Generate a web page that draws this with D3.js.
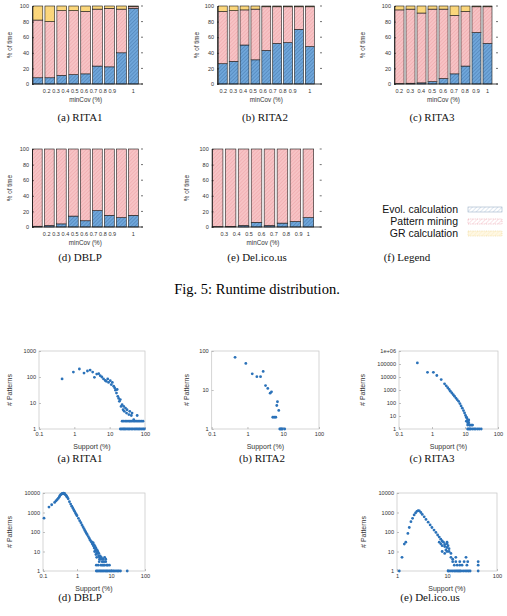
<!DOCTYPE html>
<html>
<head>
<meta charset="utf-8">
<script src="https://cdn.jsdelivr.net/npm/d3@7"></script>
<style>
body { margin: 0; background: #fff; }
svg { display: block; }
</style>
</head>
<body>
<script>
// ---- runtime distribution (% of time) ----
var minCov9 = ["0.2", "0.3", "0.4", "0.5", "0.6", "0.7", "0.8", "0.9", "1"];
var minCov8 = ["0.3", "0.4", "0.5", "0.6", "0.7", "0.8", "0.9", "1"];

var rita1Evol = [8, 8, 11, 12, 13, 23, 22, 40, 97];
var rita1Pattern = [74, 72, 83, 82, 80, 73, 75, 56, 2];
var rita1GR = [18, 20, 6, 6, 7, 4, 3, 4, 1];

var rita2Evol = [26, 29, 50, 31, 43, 52, 53, 70, 48];
var rita2Pattern = [67, 65, 45, 65, 56, 47, 46, 29, 51];
var rita2GR = [7, 6, 5, 4, 1, 1, 1, 1, 1];

var rita3Evol = [0.5, 1, 1.5, 3, 7, 13, 23, 66, 52];
var rita3Pattern = [94.5, 95, 89.5, 93, 89, 75, 70, 33, 47];
var rita3GR = [5, 4, 9, 4, 4, 12, 7, 1, 1];

var dblpEvol = [1, 2, 4, 14, 8, 21, 15, 12, 15];
var dblpPattern = [99, 98, 96, 86, 92, 79, 85, 88, 85];
var dblpGR = [0, 0, 0, 0, 0, 0, 0, 0, 0];

var delEvol = [0.5, 0.8, 2, 6, 2, 5, 7, 12];
var delPattern = [99.5, 99.2, 98, 94, 98, 95, 93, 88];
var delGR = [0, 0, 0, 0, 0, 0, 0, 0];

var legendNames = ["Evol. calculation", "Pattern mining", "GR calculation"];

// ---- # patterns per support value ----
var rita1Support = [0.45, 0.94, 1.39, 1.88, 2.35, 2.8, 3.3, 3.7, 4.3, 4.9, 5.4, 6.0, 6.7, 7.5, 8.0, 8.8, 9.3,
    10.4, 11.1, 11.9, 13, 13.9, 14.6, 15.6, 16.3, 17, 18, 18.8, 20, 21, 22.5, 24, 25, 26, 28, 30, 31, 35, 37,
    41, 43, 48, 60,
    22.5, 25, 28, 31, 35, 38, 42, 47, 52, 58, 64, 71, 79, 88,
    20, 22, 24, 26, 28, 31, 34, 37, 41, 45, 50, 55, 60, 66, 72, 80, 88, 96];
var rita1Patterns = [84, 155, 203, 142, 170, 185, 155, 97, 130, 134, 112, 100, 84, 74, 68, 84, 62,
    72, 51, 62, 44, 38, 31, 24, 33, 18, 15, 11.6, 13.5, 7.4, 8.6, 5.5, 7.4, 4.8, 6.4, 4.1, 5.5, 3.6, 4.8,
    3.3, 4.1, 2.3, 3.3,
    2, 2, 2, 2, 2, 2, 2, 2, 2, 2, 2, 2, 2, 2,
    1, 1, 1, 1, 1, 1, 1, 1, 1, 1, 1, 1, 1, 1, 1, 1, 1, 1];

var rita2Support = [0.45, 0.9, 1.36, 1.83, 2.32, 2.75, 3.2, 3.7, 4.3, 4.7, 5.1, 5.6, 6.2, 6.6, 6.9, 7.5,
    8, 8.5, 9, 9.5, 11];
var rita2Patterns = [69, 48, 26, 22, 22, 30, 13, 11, 8.3, 9, 2, 2, 2, 4, 5, 3,
    1, 1, 1, 1, 1];

var rita3Support = [0.36, 0.73, 1.1, 1.4, 1.9, 2.4, 2.7, 3.0, 3.3, 3.6, 4.0, 4.4, 4.8, 5.3, 5.8, 6.4, 7.0,
    7.6, 8.3, 9.0, 9.7, 10.4, 11, 11.4, 12, 12.5, 13, 13.5, 11, 12, 12, 13, 14, 15, 16, 17,
    12, 13, 14, 15, 17, 19, 21, 24, 27, 31];
var rita3Patterns = [120000, 23000, 23000, 13000, 6300, 3000, 2100, 1500, 1100, 800, 590, 440, 330, 240, 180, 134, 90,
    60, 40, 26, 17, 11, 8, 7, 5, 4, 3, 2, 4, 3, 2, 5, 2, 2, 2, 2,
    1, 1, 1, 1, 1, 1, 1, 1, 1, 1];

var dblpSupport = [0.107, 0.15, 0.18, 0.22, 0.24, 0.26, 0.28, 0.3, 0.31, 0.33, 0.34, 0.36, 0.37, 0.39, 0.4,
    0.42, 0.43, 0.46, 0.48, 0.5, 0.52,
    0.55, 0.6, 0.65, 0.7, 0.75, 0.8, 0.85, 0.9, 0.95, 1.0, 1.1, 1.2, 1.3, 1.4, 1.5, 1.6, 1.7, 1.8, 1.9, 2.0,
    2.15, 2.3, 2.45, 2.6, 2.8, 3.0, 3.2, 3.5, 3.8, 4.0, 4.3, 4.6, 5.0,
    2.8, 3.0, 3.2, 3.4, 3.6, 3.9, 3.3, 3.6, 3.8, 4.1, 4.4, 4.6, 4.8, 5.2, 5.5, 5.8, 6.2, 6.5, 7, 7.5, 8,
    3.7, 4.2, 4.5, 5, 5.5, 6, 6.5, 7, 9,
    3.7, 4, 4.4, 4.8, 5.2, 5.7, 6.2, 6.8, 7.4, 8, 8.8, 9.6, 10.5, 11.5, 12.5, 14, 15.5, 17, 19, 30];
var dblpPatterns = [510, 1900, 2500, 3300, 3900, 4500, 5300, 6200, 7000, 8100, 8600, 9000, 9500, 9300, 9800,
    9000, 9400, 8000, 7500, 6700, 6000,
    5000, 3600, 2700, 2100, 1700, 1400, 1150, 930, 800, 680, 500, 380, 300, 230, 185, 150, 120, 100, 85, 73,
    58, 47, 38, 32, 25, 20, 15, 12, 9, 8, 6, 5, 4,
    30, 28, 22, 18, 15, 12, 10, 7, 5, 10, 8, 4, 6, 5, 3, 4, 3, 5, 3, 2, 2,
    2, 2, 3, 2, 2, 2, 2, 4, 2,
    1, 1, 1, 1, 1, 1, 1, 1, 1, 1, 1, 1, 1, 1, 1, 1, 1, 1, 1, 1];

var delSupport = [1.11, 1.26, 1.4, 1.5, 1.65, 1.76, 1.9, 2.05, 2.2, 2.35, 2.5, 2.65, 2.8,
    3.0, 3.2, 3.5, 3.8, 4.2, 4.6, 5, 5.5, 6, 6.5, 7, 7.5, 8, 9, 10,
    7, 7.5, 8, 8.5, 9, 9.5, 10, 10.5, 11, 11, 12, 12, 13, 13, 14, 15, 15, 16, 18, 18, 20, 22, 24, 25, 26,
    10, 10, 9, 8,
    10.5, 11, 12, 13, 14, 15, 16, 17, 18, 19, 21, 23, 25, 27, 29, 42, 42, 42];
var delPatterns = [1, 5, 24, 30, 85, 170, 340, 500, 750, 950, 1150, 1250, 1200,
    1000, 800, 600, 440, 320, 230, 170, 125, 95, 70, 55, 43, 35, 23, 16,
    30, 25, 20, 30, 18, 12, 25, 20, 10, 14, 8, 5, 4, 3, 2, 3, 5, 2, 3, 2, 2, 3, 5, 2, 3,
    30, 10, 8, 10,
    1, 1, 1, 1, 1, 1, 1, 1, 1, 1, 1, 1, 1, 1, 1, 1, 2, 3];

// page setup
var canvasX = 507;
var canvasY = 616;
var sansFont = "'Liberation Sans', Arial, Helvetica, sans-serif";
var serifFont = "'Liberation Serif', 'Times New Roman', serif";
var dotColor = "#2b72b9";

var svg = d3.select("body").append("svg")
    .attr("width", canvasX)
    .attr("height", canvasY);

makePatterns();

var fills = { evol: "url(#hatchBlue)", pattern: "url(#hatchPink)", gr: "url(#fillYellow)" };

// bar charts
drawBars({ labels: minCov9, evol: rita1Evol, pattern: rita1Pattern, gr: rita1GR,
    left: 32, right: 143, top: 6, bottom: 84, barL: 33, barR: 138.3,
    labStart: 46.7, labEnd: 112.3, yTitleX: 10, caption: "(a) RITA1", capX: 80, capY: 121 });
drawBars({ labels: minCov9, evol: rita2Evol, pattern: rita2Pattern, gr: rita2GR,
    left: 217, right: 322, top: 6, bottom: 84, barL: 218.3, barR: 314.3,
    labStart: 223.3, labEnd: 292.7, yTitleX: 197, caption: "(b) RITA2", capX: 265, capY: 121 });
drawBars({ labels: minCov9, evol: rita3Evol, pattern: rita3Pattern, gr: rita3GR,
    left: 394, right: 498, top: 6, bottom: 84, barL: 395, barR: 492,
    labStart: 399.3, labEnd: 476, yTitleX: 363, caption: "(c) RITA3", capX: 432, capY: 121 });
drawBars({ labels: minCov9, evol: dblpEvol, pattern: dblpPattern, gr: dblpGR,
    left: 32, right: 143, top: 149, bottom: 227, barL: 32.3, barR: 138.3,
    labStart: 46.7, labEnd: 112.3, yTitleX: 10, caption: "(d) DBLP", capX: 80, capY: 261 });
drawBars({ labels: minCov8, evol: delEvol, pattern: delPattern, gr: delGR,
    left: 211.7, right: 321.7, top: 149, bottom: 227, barL: 212.3, barR: 313.7,
    labStart: 224.3, labEnd: 298.7, yTitleX: 187, caption: "(e) Del.ico.us", capX: 257, capY: 261 });

drawLegend();

// figure caption
svg.append("text")
    .attr("x", 257).attr("y", 294)
    .attr("text-anchor", "middle")
    .style("font-family", serifFont).style("font-size", "14.5px")
    .text("Fig. 5: Runtime distribution.");

// scatter plots
var decadesX = [0.1, 1, 10, 100];
drawScatter({ sup: rita1Support, pat: rita1Patterns, xDom: [0.1, 100], yDom: [1, 1000],
    xTicks: decadesX, yTicks: [1, 10, 100, 1000],
    left: 39, right: 145, top: 351, bottom: 429, yTitleX: 10, caption: "(a) RITA1", capX: 80, capY: 462 });
drawScatter({ sup: rita2Support, pat: rita2Patterns, xDom: [0.1, 100], yDom: [1, 100],
    xTicks: decadesX, yTicks: [1, 10, 100],
    left: 211.7, right: 319, top: 351, bottom: 429, yTitleX: 187, caption: "(b) RITA2", capX: 262, capY: 462 });
drawScatter({ sup: rita3Support, pat: rita3Patterns, xDom: [0.1, 100], yDom: [1, 1e6],
    xTicks: decadesX, yTicks: [1, 10, 100, 1000, 10000, 100000, 1e6],
    left: 399, right: 498, top: 351, bottom: 429, yTitleX: 363, caption: "(c) RITA3", capX: 432, capY: 462 });
drawScatter({ sup: dblpSupport, pat: dblpPatterns, xDom: [0.1, 100], yDom: [1, 10000],
    xTicks: decadesX, yTicks: [1, 10, 100, 1000, 10000],
    left: 43, right: 145, top: 493, bottom: 571, yTitleX: 10, caption: "(d) DBLP", capX: 80, capY: 601 });
drawScatter({ sup: delSupport, pat: delPatterns, xDom: [1, 100], yDom: [1, 10000],
    xTicks: [1, 10, 100], yTicks: [1, 10, 100, 1000, 10000],
    left: 397, right: 497, top: 493, bottom: 571, yTitleX: 364, caption: "(e) Del.ico.us", capX: 430, capY: 601 });


// hatch patterns for bars and legend
function makePatterns() {
    var defs = svg.append("defs");

    function hatch(id, bg, line, width, size) {
        var p = defs.append("pattern")
            .attr("id", id)
            .attr("patternUnits", "userSpaceOnUse")
            .attr("width", size).attr("height", size)
            .attr("patternTransform", "rotate(45)");
        p.append("rect").attr("width", size).attr("height", size).attr("fill", bg);
        p.append("line")
            .attr("x1", 0).attr("y1", 0).attr("x2", 0).attr("y2", size)
            .attr("stroke", line).attr("stroke-width", width);
    }

    hatch("hatchBlue", "#6fa6da", "#376699", 0.7, 2.6);
    hatch("hatchPink", "#f7c3c5", "#e58c92", 0.6, 2.6);
    hatch("fillYellow", "#fbd77d", "#f3c75c", 0.3, 2.6);
    hatch("legBlue", "#ffffff", "#9db8d2", 0.7, 3);
    hatch("legPink", "#ffffff", "#ef9aa6", 0.6, 3);
    hatch("legYellow", "#fff8e3", "#f6e1a6", 0.5, 3);
}

// stacked bar chart of the runtime shares
function drawBars(p) {
    var rows = p.labels.map(function(l, i) {
        return { label: l, evol: p.evol[i], pattern: p.pattern[i], gr: p.gr[i] };
    });
    var series = d3.stack().keys(["evol", "pattern", "gr"])(rows);

    var x = d3.scaleBand().domain(p.labels)
        .range([p.barL, p.barR])
        .paddingInner(0.18).paddingOuter(0);
    var y = d3.scaleLinear().domain([0, 100]).range([p.bottom, p.top]);
    var yTicks = [0, 20, 40, 60, 80, 100];

    var g = svg.append("g");

    g.selectAll("g.layer")
        .data(series)
        .enter().append("g")
        .attr("class", "layer")
        .attr("fill", function(d) { return fills[d.key]; })
        .selectAll("rect")
        .data(function(d) { return d; })
        .enter().append("rect")
        .attr("x", function(d) { return x(d.data.label); })
        .attr("width", x.bandwidth())
        .attr("y", function(d) { return y(d[1]); })
        .attr("height", function(d) { return Math.max(0, y(d[0]) - y(d[1])); })
        .attr("stroke", "#1a1a1a")
        .attr("stroke-width", 0.6);

    // left axis
    var yAxis = d3.axisLeft(y).tickValues(yTicks).tickSizeInner(-2).tickSizeOuter(0).tickPadding(3);
    var ya = g.append("g")
        .attr("transform", "translate(" + p.left + ",0)")
        .call(yAxis);
    ya.attr("font-family", sansFont).attr("font-size", 5.5);
    ya.select(".domain").attr("stroke", "#111").attr("stroke-width", 0.8);
    ya.selectAll(".tick line").attr("stroke", "#111").attr("stroke-width", 0.6);
    ya.selectAll(".tick text").attr("fill", "#333");

    // bottom line and mirror ticks on the right
    g.append("line")
        .attr("x1", p.left).attr("x2", p.right)
        .attr("y1", y(0)).attr("y2", y(0))
        .attr("stroke", "#111").attr("stroke-width", 0.8);
    g.selectAll("line.mirror")
        .data(yTicks)
        .enter().append("line")
        .attr("class", "mirror")
        .attr("x1", p.right - 2).attr("x2", p.right)
        .attr("y1", function(d) { return y(d); })
        .attr("y2", function(d) { return y(d); })
        .attr("stroke", "#111").attr("stroke-width", 0.6);

    // minCov labels (first ones are packed, last one sits under its bar)
    var n = p.labels.length;
    var labX = d3.scaleLinear().domain([0, n - 2]).range([p.labStart, p.labEnd]);
    g.selectAll("text.xlab")
        .data(p.labels)
        .enter().append("text")
        .attr("class", "xlab")
        .attr("x", function(d, i) {
            return i < n - 1 ? labX(i) : x(d) + x.bandwidth() / 2;
        })
        .attr("y", p.bottom + 8.5)
        .attr("text-anchor", "middle")
        .style("font-family", sansFont).style("font-size", "5.5px")
        .attr("fill", "#333")
        .text(function(d) { return d; });

    g.append("text")
        .attr("x", (p.barL + p.barR) / 2)
        .attr("y", p.bottom + 17.5)
        .attr("text-anchor", "middle")
        .style("font-family", sansFont).style("font-size", "6.3px")
        .attr("fill", "#333")
        .text("minCov (%)");

    g.append("text")
        .attr("transform", "translate(" + p.yTitleX + "," + (p.top + p.bottom) / 2 + ") rotate(-90)")
        .attr("text-anchor", "middle")
        .attr("dy", "0.35em")
        .style("font-family", sansFont).style("font-size", "6.3px")
        .attr("fill", "#333")
        .text("% of time");

    caption(p.caption, p.capX, p.capY);
}

// legend panel (f)
function drawLegend() {
    var sw = ["url(#legBlue)", "url(#legPink)", "url(#legYellow)"];
    var strokes = ["#9fb3c8", "#e9a3ad", "#efd99a"];
    var rowY = d3.scalePoint().domain(legendNames).range([213, 237]);

    var lg = svg.append("g");
    lg.selectAll("text")
        .data(legendNames)
        .enter().append("text")
        .attr("x", 458)
        .attr("y", function(d) { return rowY(d); })
        .attr("text-anchor", "end")
        .style("font-family", sansFont).style("font-size", "10.5px")
        .attr("fill", "#111")
        .text(function(d) { return d; });

    lg.selectAll("rect")
        .data(legendNames)
        .enter().append("rect")
        .attr("x", 468)
        .attr("y", function(d) { return rowY(d) - 6; })
        .attr("width", 34).attr("height", 5)
        .attr("fill", function(d, i) { return sw[i]; })
        .attr("stroke", function(d, i) { return strokes[i]; })
        .attr("stroke-width", 0.6)
        .attr("stroke-dasharray", function(d, i) { return i == 0 ? null : "1,0.8"; });

    caption("(f) Legend", 407, 261);
}

// log-log scatter of pattern counts
function drawScatter(p) {
    var x = d3.scaleLog().domain(p.xDom).range([p.left, p.right]);
    var y = d3.scaleLog().domain(p.yDom).range([p.bottom, p.top]);
    var g = svg.append("g");

    g.append("rect")
        .attr("x", p.left).attr("y", p.top)
        .attr("width", p.right - p.left).attr("height", p.bottom - p.top)
        .attr("fill", "none").attr("stroke", "#c4c4c4").attr("stroke-width", 0.7);

    var fmtY = function(d) { return d >= 1e6 ? "1e+06" : String(d); };
    var fmtX = function(d) { return String(d); };

    var xa = g.append("g")
        .attr("transform", "translate(0," + p.bottom + ")")
        .call(d3.axisBottom(x).tickValues(p.xTicks).tickFormat(fmtX)
            .tickSizeInner(-2).tickSizeOuter(0).tickPadding(3));
    var ya = g.append("g")
        .attr("transform", "translate(" + p.left + ",0)")
        .call(d3.axisLeft(y).tickValues(p.yTicks).tickFormat(fmtY)
            .tickSizeInner(-2).tickSizeOuter(0).tickPadding(3));

    [xa, ya].forEach(function(a) {
        a.attr("font-family", sansFont).attr("font-size", 5.6);
        a.select(".domain").remove();
        a.selectAll(".tick line").attr("stroke", "#999").attr("stroke-width", 0.6);
        a.selectAll(".tick text").attr("fill", "#333");
    });

    g.selectAll("circle")
        .data(p.sup)
        .enter().append("circle")
        .attr("cx", function(d) { return x(d); })
        .attr("cy", function(d, i) { return y(p.pat[i]); })
        .attr("r", 1.4)
        .attr("fill", dotColor);

    g.append("text")
        .attr("x", (p.left + p.right) / 2)
        .attr("y", p.bottom + 19.5)
        .attr("text-anchor", "middle")
        .style("font-family", sansFont).style("font-size", "7px")
        .attr("fill", "#333")
        .text("Support (%)");

    g.append("text")
        .attr("transform", "translate(" + p.yTitleX + "," + (p.top + p.bottom) / 2 + ") rotate(-90)")
        .attr("text-anchor", "middle")
        .attr("dy", "0.35em")
        .style("font-family", sansFont).style("font-size", "7px")
        .attr("fill", "#333")
        .text("# Patterns");

    caption(p.caption, p.capX, p.capY);
}

function caption(txt, cx, cy) {
    svg.append("text")
        .attr("x", cx).attr("y", cy)
        .attr("text-anchor", "middle")
        .style("font-family", serifFont).style("font-size", "11px")
        .attr("fill", "#111")
        .text(txt);
}
</script>
</body>
</html>
